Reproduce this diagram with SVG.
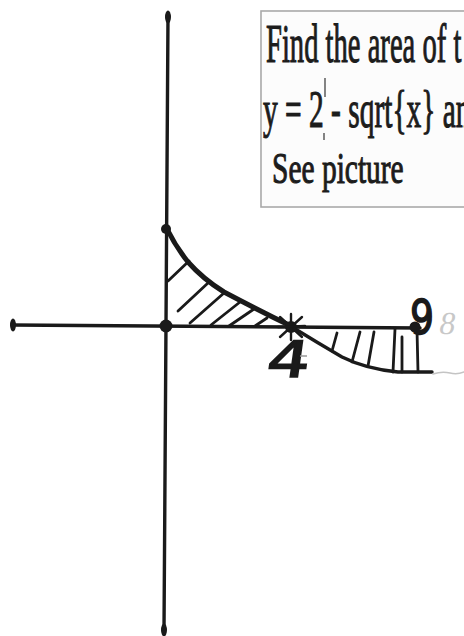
<svg xmlns="http://www.w3.org/2000/svg" width="464" height="636" viewBox="0 0 464 636">
  <style>
    .ink { stroke: #1a1a1a; fill: none; stroke-linecap: round; stroke-linejoin: round; }
    .axis { stroke-width: 3.4; }
    .hatch { stroke-width: 2.8; }
    .dot { fill: #1a1a1a; }
    .qtext { font-family: "Liberation Serif", "Times New Roman", serif; fill: #1c1c1c; stroke: #1c1c1c; stroke-width: 1.1; }
    .hand { font-family: "DejaVu Sans", "Liberation Sans", sans-serif; fill: #1a1a1a; stroke: #1a1a1a; stroke-width: 1.6; }
    .faint { stroke: #c4c4c4; fill: none; stroke-width: 1.5; stroke-linecap: round; }
  </style>
  <rect width="464" height="636" fill="#ffffff"/>

  <g id="problem-box">
    <rect x="261" y="11" width="215" height="196" fill="#fcfcfc" stroke="#a9a9a9" stroke-width="1.6"/>
    <text class="qtext" font-size="55" transform="translate(266,62) scale(0.52,1)">Find the area of t</text>
    <text class="qtext" font-size="52" transform="translate(263,127) scale(0.566,1)">y = 2 - sqrt{x} an</text>
    <text class="qtext" font-size="45" transform="translate(272,183) scale(0.655,1)">See picture</text>
    <line x1="325" y1="78" x2="325" y2="97" stroke="#333" stroke-width="1.2"/>
    <line x1="324" y1="133" x2="324" y2="140" stroke="#333" stroke-width="1.2"/>
  </g>

  <g id="axes">
    <path class="ink axis" d="M168,16 L164,631"/>
    <path class="ink axis" d="M12,325 L420,328"/>
    <ellipse cx="168" cy="17" rx="3" ry="6.5" class="dot"/>
    <ellipse cx="164" cy="630" rx="3" ry="6.5" class="dot"/>
    <ellipse cx="13" cy="325" rx="3" ry="6.5" class="dot"/>
  </g>

  <g id="curve">
    <path class="ink" d="M167,229 Q176,247 188,262 Q203,279 224,292 Q262,312 293,327" stroke-width="5"/>
    <path class="ink" d="M292,327 Q318,343 342,357 Q366,369 398,372 L432,372" stroke-width="3.4"/>
  </g>

  <g id="hatching" class="ink hatch">
    <line x1="168" y1="281" x2="189" y2="261"/>
    <line x1="178" y1="311" x2="208" y2="283"/>
    <line x1="190" y1="323" x2="224" y2="293"/>
    <line x1="211" y1="325" x2="240" y2="302"/>
    <line x1="229" y1="326" x2="254" y2="309"/>
    <line x1="255" y1="326" x2="267" y2="318"/>
    <line x1="337" y1="333" x2="332" y2="351"/>
    <line x1="360" y1="332" x2="352" y2="362"/>
    <line x1="374" y1="332" x2="368" y2="366"/>
    <line x1="395" y1="329" x2="393" y2="372"/>
    <line x1="402" y1="337" x2="402" y2="372"/>
    <line x1="417" y1="330" x2="418" y2="372"/>
  </g>

  <g id="points">
    <circle cx="166" cy="326" r="6.5" class="dot"/>
    <circle cx="166" cy="229" r="5" class="dot"/>
    <circle cx="415" cy="327" r="5.5" class="dot"/>
    <circle cx="291" cy="327" r="6" class="dot"/>
    <g class="ink" stroke-width="2.4">
      <line x1="280" y1="317" x2="302" y2="337"/>
      <line x1="280" y1="337" x2="302" y2="317"/>
      <line x1="291" y1="314" x2="291" y2="340"/>
      <line x1="278" y1="327" x2="305" y2="326"/>
    </g>
  </g>

  <g id="labels">
    <text class="hand" font-size="50" transform="translate(265,377) skewX(-8)" textLength="43" lengthAdjust="spacingAndGlyphs">4</text>
    <line x1="300" y1="356" x2="307" y2="356" stroke="#999" stroke-width="1.5"/>
    <text class="hand" font-size="48" transform="translate(410,334)" textLength="24" lengthAdjust="spacingAndGlyphs">9</text>
    <text font-family="Liberation Serif, serif" font-size="32" fill="#c8c8c8" transform="translate(438,334) skewX(-10)">8</text>
    <path class="faint" d="M433,374 Q442,371 450,373 Q457,375 464,372"/>
  </g>
</svg>
